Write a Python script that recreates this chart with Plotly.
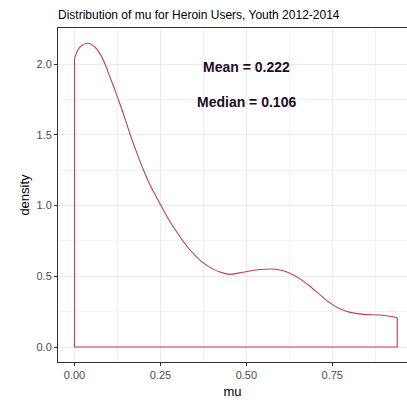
import plotly.graph_objects as go

# Kernel density of mu
mu = [0.000, 0.010, 0.020, 0.040, 0.060, 0.074, 0.090, 0.103, 0.118, 0.132,
      0.147, 0.161, 0.180, 0.200, 0.220, 0.249, 0.278, 0.307, 0.336, 0.365,
      0.394, 0.423, 0.452, 0.480, 0.511, 0.540, 0.569, 0.598, 0.627,
      0.656, 0.685, 0.714, 0.743, 0.772, 0.802, 0.840, 0.889, 0.918, 0.939]
density = [2.040, 2.100, 2.130, 2.148, 2.120, 2.075, 1.995, 1.910, 1.815, 1.720,
           1.615, 1.510, 1.382, 1.255, 1.145, 1.012, 0.886, 0.780, 0.686, 0.615,
           0.563, 0.530, 0.514, 0.524, 0.538, 0.548, 0.552, 0.545, 0.521,
           0.482, 0.430, 0.370, 0.312, 0.270, 0.245, 0.231, 0.226, 0.217, 0.207]

mean_mu = 0.222
median_mu = 0.106

x_ticks = [0.0, 0.25, 0.5, 0.75]
x_labels = ["0.00", "0.25", "0.50", "0.75"]
y_ticks = [0.0, 0.5, 1.0, 1.5, 2.0]
y_labels = ["0.0", "0.5", "1.0", "1.5", "2.0"]

line_col = "#c0404c"

fig = go.Figure()
# smooth density curve
fig.add_trace(go.Scatter(
    x=mu, y=density, mode="lines",
    line=dict(color=line_col, width=1.1, shape="spline", smoothing=0.8),
    hoverinfo="skip", showlegend=False,
))
# closing edges of the outline (vertical sides and baseline), like geom_density
fig.add_trace(go.Scatter(
    x=[mu[0], mu[0], mu[-1], mu[-1]], y=[density[0], 0, 0, density[-1]],
    mode="lines", line=dict(color=line_col, width=1.1),
    hoverinfo="skip", showlegend=False,
))

txt_font = dict(family="Liberation Sans, Arial, sans-serif", size=14, color="#1f0c22")
fig.add_annotation(x=0.5, y=1.98, text="<b>Mean = %.3f</b>" % mean_mu,
                   showarrow=False, font=txt_font, xanchor="center", yanchor="middle")
fig.add_annotation(x=0.5, y=1.735, text="<b>Median = %.3f</b>" % median_mu,
                   showarrow=False, font=txt_font, xanchor="center", yanchor="middle")

grid = "#ebebeb"
fig.update_layout(
    width=407, height=403,
    margin=dict(l=58, r=0, t=28, b=41),
    paper_bgcolor="white", plot_bgcolor="white",
    font=dict(family="Liberation Sans, Arial, sans-serif", color="black"),
    title=dict(text="Distribution of mu for Heroin Users, Youth 2012-2014",
               x=0, xref="paper", xanchor="left",
               y=1 - 15 / 403, yref="container", yanchor="middle",
               font=dict(size=12, color="black")),
    xaxis=dict(
        range=[-0.048, 0.9674],
        tickvals=x_ticks, ticktext=x_labels,
        showgrid=True, gridcolor=grid, gridwidth=1,
        minor=dict(dtick=0.125, tick0=0, showgrid=True, gridcolor="#f2f2f2", gridwidth=0.6),
        zeroline=False,
        showline=True, linecolor="#333333", linewidth=1, mirror=True,
        ticks="outside", ticklen=3, tickcolor="#333333",
        tickfont=dict(size=11, color="#4d4d4d"),
        title=dict(text="mu", font=dict(size=13, color="black"), standoff=6),
    ),
    yaxis=dict(
        range=[-0.106, 2.256],
        tickvals=y_ticks, ticktext=y_labels,
        showgrid=True, gridcolor=grid, gridwidth=1,
        minor=dict(dtick=0.25, tick0=0, showgrid=True, gridcolor="#f2f2f2", gridwidth=0.6),
        zeroline=False,
        showline=True, linecolor="#333333", linewidth=1, mirror=False,
        ticks="outside", ticklen=3, tickcolor="#333333",
        tickfont=dict(size=11, color="#4d4d4d"),
        title=dict(text="density", font=dict(size=13, color="black"), standoff=3),
    ),
)

fig.write_html("out.html")
